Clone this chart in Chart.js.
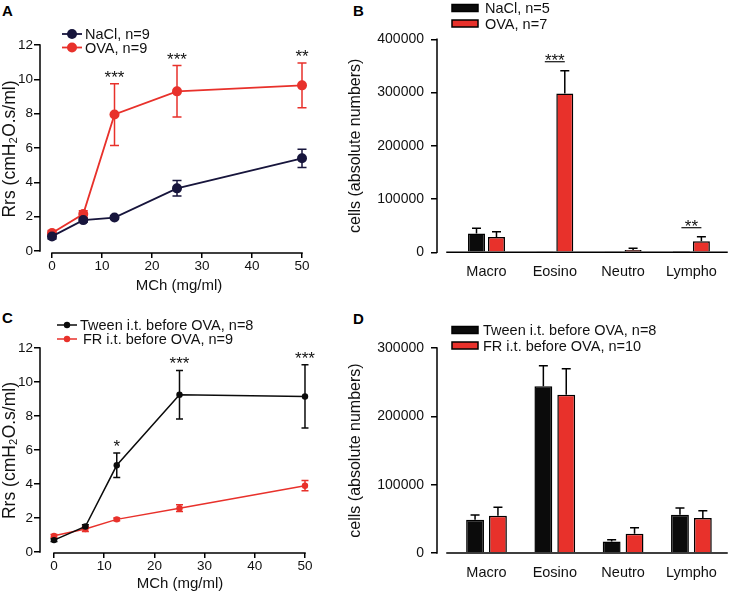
<!DOCTYPE html>
<html>
<head>
<meta charset="utf-8">
<script src="https://cdn.jsdelivr.net/npm/chart.js@4.4.1/dist/chart.umd.min.js"></script>
<style>
  html, body { margin: 0; padding: 0; background: #fff; overflow: hidden; }
  body { width: 729px; height: 593px; position: relative; font-family: "Liberation Sans", Arial, sans-serif; }
  canvas { position: absolute; }
  .tag { position: absolute; font-weight: bold; font-size: 15px; line-height: 1; color: #000; }
</style>
</head>
<body>
<div class="tag" style="left:2px;top:3px">A</div>
<div class="tag" style="left:353px;top:3px">B</div>
<div class="tag" style="left:2px;top:310px">C</div>
<div class="tag" style="left:353px;top:311px">D</div>
<canvas id="chartA" width="360" height="295" style="left:0;top:0"></canvas>
<canvas id="chartB" width="389" height="295" style="left:340px;top:0"></canvas>
<canvas id="chartC" width="360" height="293" style="left:0;top:300px"></canvas>
<canvas id="chartD" width="389" height="293" style="left:340px;top:300px"></canvas>
<script>
// --- data ---
const doses = [0, 6.25, 12.5, 25, 50];
const xTicksMCh = [0, 10, 20, 30, 40, 50];
const yTicksRrs = [0, 2, 4, 6, 8, 10, 12];

// A: airway resistance, NaCl vs OVA
const naclRrs = [0.85, 1.8, 1.95, 3.65, 5.4];
const naclRrsErr = [0.15, 0.12, 0.1, 0.45, 0.53];
const ovaRrs = [1.05, 2.15, 7.95, 9.3, 9.65];
const ovaRrsErr = [0.15, 0.2, 1.8, 1.5, 1.3];
const starsA = ['', '', '***', '***', '**'];

// C: airway resistance, Tween vs FR
const tweenRrs = [0.7, 1.5, 5.1, 9.25, 9.15];
const tweenRrsErr = [0.08, 0.1, 0.72, 1.43, 1.86];
const frRrs = [0.95, 1.35, 1.92, 2.58, 3.9];
const frRrsErr = [0.08, 0.15, 0.08, 0.2, 0.3];
const starsC = ['', '', '*', '***', '***'];

// B / D: BAL cell counts
const cellTypes = ['Macro', 'Eosino', 'Neutro', 'Lympho'];
const naclCells = [35500, 800, 800, 300];
const naclCellsErr = [9500, 0, 0, 0];
const ovaCells = [28700, 298000, 4300, 20600];
const ovaCellsErr = [9900, 43000, 3200, 8700];
const starsB = ['', '***', '', '**'];
const yTicksCellsB = [0, 100000, 200000, 300000, 400000];

const tweenCells = [48800, 243900, 17000, 56100];
const tweenCellsErr = [6800, 30000, 2500, 9800];
const frCells = [54600, 231700, 28300, 51200];
const frCellsErr = [12200, 38000, 8800, 10700];
const starsD = ['', '', '', ''];
const yTicksCellsD = [0, 100000, 200000, 300000];

const FONT = '"Liberation Sans", Arial, sans-serif';
const RED = '#e8312b';
const NAVY = '#17153c';
const BLACK = '#0b0b0b';
const INK = '#111';

Chart.defaults.font.family = FONT;
Chart.defaults.color = INK;

// Prism-style axis lines (offset, spanning only the tick range)
const prismAxes = {
  id: 'prismAxes',
  afterDraw(chart, args, o) {
    const { ctx, chartArea: a, scales: { x, y } } = chart;
    ctx.save();
    ctx.strokeStyle = '#000';
    ctx.lineWidth = 1.5;
    ctx.beginPath();
    ctx.moveTo(a.left, y.getPixelForValue(o.yFrom) + 0.75);
    ctx.lineTo(a.left, y.getPixelForValue(o.yTo) - 0.75);
    const x0 = o.xFrom != null ? x.getPixelForValue(o.xFrom) : a.left + o.xInset;
    const x1 = o.xTo != null ? x.getPixelForValue(o.xTo) : a.right;
    ctx.moveTo(x0 - 0.75, a.bottom);
    ctx.lineTo(x1 + 0.75, a.bottom);
    ctx.stroke();
    ctx.restore();
  }
};

function drawErrors(chart, o) {
  const { ctx, scales: { y } } = chart;
  chart.data.datasets.forEach((ds, di) => {
    const meta = chart.getDatasetMeta(di);
    ctx.save();
    ctx.strokeStyle = o.color || ds.borderColor;
    ctx.lineWidth = o.width;
    ctx.beginPath();
    meta.data.forEach((el, i) => {
      const v = ds.data[i].y, e = ds.errors[i];
      if (!e) return;
      const top = y.getPixelForValue(v + e);
      const bot = o.upOnly ? el.y : y.getPixelForValue(v - e);
      ctx.moveTo(el.x, bot); ctx.lineTo(el.x, top);
      ctx.moveTo(el.x - o.cap, top); ctx.lineTo(el.x + o.cap, top);
      if (!o.upOnly) { ctx.moveTo(el.x - o.cap, bot); ctx.lineTo(el.x + o.cap, bot); }
    });
    ctx.stroke();
    ctx.restore();
  });
}

const errorBars = {
  id: 'errorBars',
  beforeDatasetsDraw(chart, args, o) { if (!o.upOnly) drawErrors(chart, o); },
  afterDatasetsDraw(chart, args, o) { if (o.upOnly) drawErrors(chart, o); }
};

// significance asterisks, optionally with a bracket line between the two bars
const sigStars = {
  id: 'sigStars',
  afterDatasetsDraw(chart, args, o) {
    const { ctx, scales: { y } } = chart;
    ctx.save();
    ctx.fillStyle = INK; ctx.strokeStyle = INK; ctx.lineWidth = 1.2;
    ctx.font = `${o.size}px ${FONT}`;
    ctx.textAlign = 'center'; ctx.textBaseline = 'alphabetic';
    o.labels.forEach((lab, i) => {
      if (!lab) return;
      let top = Infinity;
      const xs = [];
      chart.data.datasets.forEach((ds, di) => {
        xs.push(chart.getDatasetMeta(di).data[i].x);
        top = Math.min(top, y.getPixelForValue(ds.data[i].y + (ds.errors[i] || 0)));
      });
      if (o.bracket) {
        const ly = top - o.gap;
        ctx.beginPath(); ctx.moveTo(xs[0], ly); ctx.lineTo(xs[xs.length - 1], ly); ctx.stroke();
        ctx.fillText(lab, (xs[0] + xs[xs.length - 1]) / 2, ly + o.rise);
      } else {
        ctx.fillText(lab, xs[0], top - o.gap);
      }
    });
    ctx.restore();
  }
};

const keyLegend = {
  id: 'keyLegend',
  afterDraw(chart, args, o) {
    const ctx = chart.ctx;
    ctx.save();
    ctx.font = `${o.size}px ${FONT}`;
    ctx.textBaseline = 'middle'; ctx.textAlign = 'left';
    chart.data.datasets.forEach((ds, i) => {
      const y = o.y + i * o.dy;
      if (o.kind === 'box') {
        ctx.fillStyle = ds.backgroundColor; ctx.strokeStyle = '#000'; ctx.lineWidth = 1.5;
        ctx.fillRect(o.x, y - o.h / 2, o.w, o.h);
        ctx.strokeRect(o.x, y - o.h / 2, o.w, o.h);
      } else {
        ctx.strokeStyle = ds.borderColor; ctx.lineWidth = ds.borderWidth;
        ctx.beginPath(); ctx.moveTo(o.x, y); ctx.lineTo(o.x + o.w, y); ctx.stroke();
        ctx.fillStyle = ds.pointBackgroundColor;
        ctx.beginPath(); ctx.arc(o.x + o.w / 2, y, o.r, 0, Math.PI * 2); ctx.fill();
      }
      ctx.fillStyle = INK;
      ctx.fillText(ds.label, o.textX + (o.indent ? o.indent[i] : 0), y + 1);
    });
    ctx.restore();
  }
};

Chart.register(prismAxes, errorBars, sigStars, keyLegend);

function lineChart(id, sets, o) {
  return new Chart(document.getElementById(id), {
    type: 'line',
    data: {
      datasets: sets.map(s => ({
        label: s.label,
        data: doses.map((d, i) => ({ x: d, y: s.values[i] })),
        errors: s.errors,
        borderColor: s.color,
        backgroundColor: s.color,
        pointBackgroundColor: s.color,
        pointRadius: o.r,
        pointBorderWidth: 0,
        borderWidth: o.lw,
        tension: 0,
        clip: false
      }))
    },
    options: {
      responsive: false,
      animation: false,
      events: [],
      layout: { padding: { top: o.top, right: o.right, bottom: 0, left: 0 } },
      scales: {
        x: {
          type: 'linear', min: o.xMin, max: o.xMax,
          afterBuildTicks: s => { s.ticks = xTicksMCh.map(v => ({ value: v })); },
          afterFit: s => { s.height = o.xH; },
          ticks: { font: { size: 13.5 }, padding: 0, maxRotation: 0, color: INK },
          grid: { drawOnChartArea: false, tickLength: 5, color: '#000', lineWidth: 1.5 },
          border: { display: false },
          title: { display: true, text: 'MCh (mg/ml)', font: { size: 15 }, padding: 0, color: INK }
        },
        y: {
          min: o.yMin, max: 12,
          afterBuildTicks: s => { s.ticks = yTicksRrs.map(v => ({ value: v })); },
          afterFit: s => { s.width = 40; },
          ticks: { font: { size: 13.5 }, padding: 1, color: INK },
          grid: { drawOnChartArea: false, tickLength: 6, color: '#000', lineWidth: 1.5 },
          border: { display: false },
          title: { display: true, text: 'Rrs (cmH₂O.s/ml)', font: { size: 17.5 }, padding: 0, color: INK }
        }
      },
      plugins: {
        legend: { display: false },
        tooltip: { enabled: false },
        prismAxes: { xFrom: 0, xTo: 50, yFrom: 0, yTo: 12 },
        errorBars: { upOnly: false, width: 1.5, cap: o.cap },
        sigStars: { labels: o.stars, size: 17, gap: 1, bracket: false },
        keyLegend: { kind: 'line', x: o.legX, y: o.legY, dy: o.legDy, w: 20, r: o.r, textX: o.legX + 23, size: 14.5, indent: o.indent }
      }
    }
  });
}

function barChart(id, sets, o) {
  return new Chart(document.getElementById(id), {
    type: 'bar',
    data: {
      datasets: sets.map(s => ({
        label: s.label,
        data: cellTypes.map((c, i) => ({ x: i, y: s.values[i] })),
        errors: s.errors,
        backgroundColor: s.color,
        borderColor: '#000',
        borderWidth: 1.5,
        categoryPercentage: o.catPct,
        barPercentage: o.barPct
      }))
    },
    options: {
      responsive: false,
      animation: false,
      events: [],
      layout: { padding: { top: o.top, right: 2, bottom: 0, left: 0 } },
      scales: {
        x: {
          type: 'linear', min: -0.7247, max: 3.5212, offset: false,
          afterBuildTicks: s => { s.ticks = cellTypes.map((c, i) => ({ value: i })); },
          afterFit: s => { s.height = o.xH; },
          ticks: { font: { size: 14.5 }, padding: o.labPad, autoSkip: false, maxRotation: 0, color: INK,
                   callback: v => cellTypes[v] },
          grid: { display: false, offset: false },
          border: { display: false }
        },
        y: {
          min: 0, max: o.yTicks[o.yTicks.length - 1],
          afterBuildTicks: s => { s.ticks = o.yTicks.map(v => ({ value: v })); },
          afterFit: s => { s.width = 97; },
          ticks: { font: { size: 14 }, padding: 7, color: INK, callback: v => String(v) },
          grid: { drawOnChartArea: false, tickLength: 6, color: '#000', lineWidth: 1.5 },
          border: { display: false },
          title: { display: true, text: 'cells (absolute numbers)', font: { size: 16 }, padding: { top: 5.5, bottom: 0 }, color: INK }
        }
      },
      plugins: {
        legend: { display: false },
        tooltip: { enabled: false },
        prismAxes: { xInset: 10, yFrom: 0, yTo: o.yTicks[o.yTicks.length - 1] },
        errorBars: { upOnly: true, width: 1.5, cap: 4.5, color: '#000' },
        sigStars: { labels: o.stars, size: 17, gap: 9, rise: 4.5, bracket: true },
        keyLegend: { kind: 'box', x: 112, y: o.legY, dy: 15.5, w: 26, h: 7, textX: o.textX, size: 14.5 }
      }
    }
  });
}

lineChart('chartA', [
  { label: 'NaCl, n=9', values: naclRrs, errors: naclRrsErr, color: NAVY },
  { label: 'OVA, n=9', values: ovaRrs, errors: ovaRrsErr, color: RED }
], { top: 45, right: 42, xMin: -2.4, xMax: 53.2, yMin: -0.116, xH: 42, r: 5, lw: 1.8, cap: 4.5,
     stars: starsA, legX: 62, legY: 34, legDy: 13.5, indent: [0, 0] });

lineChart('chartC', [
  { label: 'Tween i.t. before OVA, n=8', values: tweenRrs, errors: tweenRrsErr, color: BLACK },
  { label: 'FR i.t. before OVA, n=9', values: frRrs, errors: frRrsErr, color: RED }
], { top: 48, right: 40, xMin: -2.79, xMax: 52.99, yMin: -0.0588, xH: 40, r: 3.2, lw: 1.5, cap: 3.5,
     stars: starsC, legX: 57, legY: 25, legDy: 14, indent: [0, 3] });

barChart('chartB', [
  { label: 'NaCl, n=5', values: naclCells, errors: naclCellsErr, color: BLACK },
  { label: 'OVA, n=7', values: ovaCells, errors: ovaCellsErr, color: RED }
], { top: 39.3, xH: 42.7, labPad: 2.5, catPct: 0.585, barPct: 0.85, yTicks: yTicksCellsB,
     stars: starsB, legY: 8, textX: 145 });

barChart('chartD', [
  { label: 'Tween i.t. before OVA, n=8', values: tweenCells, errors: tweenCellsErr, color: BLACK },
  { label: 'FR i.t. before OVA, n=10', values: frCells, errors: frCellsErr, color: RED }
], { top: 48, xH: 40, labPad: 3.3, catPct: 0.67, barPct: 0.78, yTicks: yTicksCellsD,
     stars: starsD, legY: 30, textX: 143 });
</script>
</body>
</html>
